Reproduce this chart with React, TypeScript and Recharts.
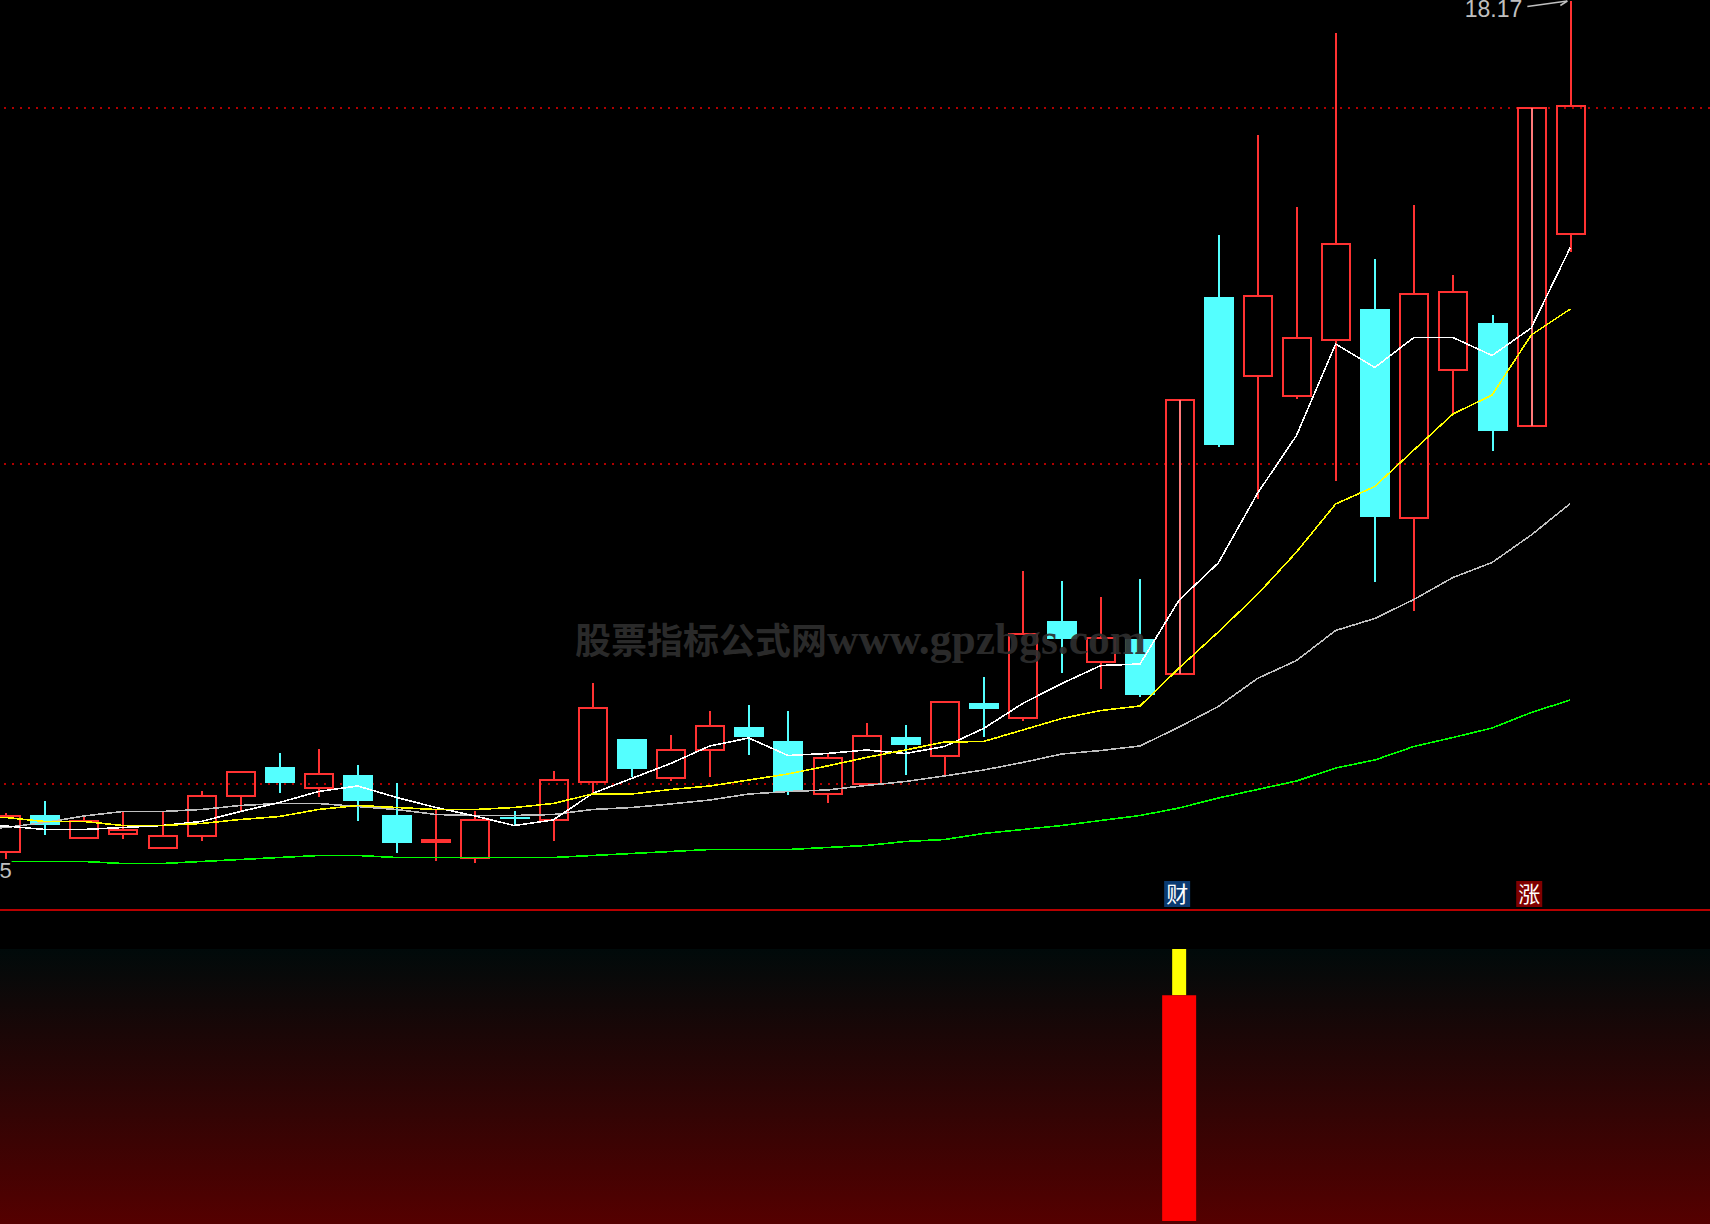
import { Bar, ComposedChart, Line, ReferenceDot, ReferenceLine, XAxis, YAxis } from "recharts";

// daily candles, left to right
const HIGHS = [1.94, 2.18, 1.86, 1.96, 1.96, 2.38, 2.76, 3.14, 3.22, 2.9, 2.54, 2.0, 1.98, 1.98, 2.78, 4.54, 3.42, 3.5, 3.98, 4.1, 3.98, 3.14, 3.74, 3.7, 4.16, 4.66, 6.78, 6.58, 6.26, 6.62, 10.2, 13.5, 15.5, 14.06, 17.54, 13.02, 14.1, 12.7, 11.9, 16.04, 18.17];
const LOWS = [1.02, 1.5, 1.44, 1.42, 1.24, 1.38, 1.96, 2.34, 2.26, 1.78, 1.14, 0.98, 0.94, 1.68, 1.38, 2.34, 2.66, 2.58, 2.66, 3.1, 2.3, 2.14, 2.52, 2.7, 2.7, 3.46, 3.78, 4.74, 4.42, 4.26, 4.72, 9.26, 8.22, 10.22, 8.58, 6.56, 5.98, 9.94, 9.18, 9.68, 13.16];
const OPENS = [1.16, 1.9, 1.44, 1.52, 1.24, 1.48, 2.28, 2.86, 2.44, 2.7, 1.9, 1.36, 1.04, 1.86, 1.8, 2.56, 3.42, 2.64, 3.2, 3.66, 3.38, 2.32, 2.52, 3.46, 3.08, 4.14, 3.84, 5.78, 4.96, 5.42, 4.72, 12.26, 10.68, 10.28, 11.4, 12.02, 7.84, 10.8, 11.74, 9.68, 13.52];
const CLOSES = [1.88, 1.7, 1.78, 1.6, 1.48, 2.28, 2.76, 2.54, 2.72, 2.18, 1.34, 1.4, 1.8, 1.82, 2.6, 4.04, 2.82, 3.2, 3.68, 3.46, 2.36, 3.04, 3.48, 3.3, 4.16, 4.02, 5.52, 5.42, 5.44, 4.3, 10.2, 9.3, 12.28, 11.44, 13.32, 7.86, 12.32, 12.36, 9.58, 16.04, 16.08];
const MARKED = [30, 39];

const MA5 = [1.68, 1.61, 1.61, 1.65, 1.69, 1.77, 1.97, 2.15, 2.37, 2.48, 2.25, 2.05, 1.88, 1.69, 1.8, 2.33, 2.63, 2.93, 3.28, 3.44, 3.09, 3.13, 3.2, 3.13, 3.27, 3.63, 4.13, 4.53, 4.89, 4.92, 6.2, 6.94, 8.33, 9.49, 11.32, 10.85, 11.45, 11.45, 11.09, 11.64, 13.25];
const MA10 = [1.85, 1.77, 1.77, 1.69, 1.69, 1.73, 1.81, 1.87, 2.01, 2.09, 2.05, 2.01, 2.01, 2.05, 2.13, 2.32, 2.32, 2.41, 2.48, 2.6, 2.72, 2.88, 3.05, 3.2, 3.36, 3.37, 3.6, 3.83, 3.99, 4.08, 4.84, 5.56, 6.31, 7.16, 8.12, 8.47, 9.2, 9.92, 10.3, 11.5, 12.02];
const MA20 = [1.65, 1.75, 1.88, 1.97, 1.97, 2.01, 2.09, 2.13, 2.13, 2.07, 2.01, 1.91, 1.89, 1.89, 1.91, 2.01, 2.05, 2.12, 2.2, 2.32, 2.37, 2.4, 2.49, 2.57, 2.68, 2.8, 2.95, 3.12, 3.19, 3.28, 3.66, 4.07, 4.63, 4.99, 5.59, 5.83, 6.21, 6.65, 6.95, 7.5, 8.13];
const MA60 = [0.97, 0.97, 0.97, 0.93, 0.93, 0.97, 1.01, 1.05, 1.09, 1.09, 1.05, 1.05, 1.05, 1.05, 1.05, 1.09, 1.13, 1.17, 1.21, 1.21, 1.21, 1.25, 1.29, 1.37, 1.41, 1.53, 1.61, 1.69, 1.79, 1.89, 2.04, 2.24, 2.41, 2.58, 2.84, 3.0, 3.27, 3.45, 3.64, 3.95, 4.2];

// averages of the day just off the left edge
const LEAD = { idx: -1, ma5: 1.66, ma10: 1.87, ma20: 1.6, ma60: 0.97 };

const GRID_LEVELS = [16.04, 8.92, 2.52];

// signal panel
const SIGNAL_DAYS = [30];
const SIGNAL_RED = [83];
const SIGNAL_YELLOW = [[83, 100]];

const RED = "#ff3232";
const CYAN = "#54ffff";
const WIDTH = 1710;
const X_DOMAIN = [-0.143, 43.57];
const Y_DOMAIN = [0, 18.2];

const rows: any[] = [
  LEAD,
  ...HIGHS.map((h, i) => ({
    idx: i,
    range: [LOWS[i], h],
    open: OPENS[i],
    close: CLOSES[i],
    marked: MARKED.includes(i),
    ma5: MA5[i],
    ma10: MA10[i],
    ma20: MA20[i],
    ma60: MA60[i],
  })),
];

const signalRows = SIGNAL_DAYS.map((d, i) => ({
  idx: d,
  red: SIGNAL_RED[i],
  yellow: SIGNAL_YELLOW[i],
}));

function Candle(props: any) {
  const { x, y, width, height, payload } = props;
  if (!payload || !payload.range) return null;
  const [low, high] = payload.range;
  const perUnit = height / (high - low);
  const toY = (v: number) => y + (high - v) * perUnit;
  const up = payload.close >= payload.open;
  const color = up ? RED : CYAN;
  const cx = x + width / 2;
  const top = toY(Math.max(payload.open, payload.close));
  const bottom = toY(Math.min(payload.open, payload.close));

  return (
    <g shapeRendering="crispEdges">
      <line x1={cx} x2={cx} y1={y} y2={top} stroke={color} strokeWidth={2} />
      <line x1={cx} x2={cx} y1={bottom} y2={y + height} stroke={color} strokeWidth={2} />
      {up ? (
        <rect x={x + 1} y={top} width={width - 2} height={Math.max(bottom - top, 1)} fill="none" stroke={RED} strokeWidth={2} />
      ) : (
        <rect x={x} y={top} width={width} height={bottom - top} fill={CYAN} />
      )}
      {payload.marked && <line x1={cx} x2={cx} y1={top} y2={bottom} stroke="#ff7a7a" strokeWidth={2} />}
    </g>
  );
}

function SignalTag(props: any) {
  const { cx, cy, text, fill } = props;
  return (
    <g>
      <rect x={cx - 15} y={cy - 13} width={26} height={26} fill={fill} />
      <text x={cx - 2} y={cy + 8} textAnchor="middle" fontSize={22} fill="#fff" fontFamily="'Noto Sans CJK SC'">
        {text}
      </text>
    </g>
  );
}

function HighLabel(props: any) {
  const { cx, cy } = props;
  return (
    <g>
      <text x={cx - 48} y={cy + 15.5} textAnchor="end" fontSize={23} fill="#c0c0c0" fontFamily="'Liberation Sans'">
        18.17
      </text>
      <polyline points={`${cx - 43},${cy + 5} ${cx - 3},${cy - 0.5}`} fill="none" stroke="#c0c0c0" strokeWidth={1.5} />
      <polyline points={`${cx - 10},${cy + 4} ${cx - 3},${cy - 0.5}`} fill="none" stroke="#c0c0c0" strokeWidth={1.5} />
    </g>
  );
}

function LowLabel(props: any) {
  const { cx, cy } = props;
  return (
    <g>
      <rect x={cx - 6} y={cy - 9} width={12} height={18} fill="#000" />
      <text x={cx} y={cy + 8} textAnchor="middle" fontSize={22} fill="#c0c0c0" fontFamily="'Liberation Sans'">
        5
      </text>
    </g>
  );
}

const lineProps = {
  strokeWidth: 1.6,
  dot: false,
  activeDot: false,
  shapeRendering: "crispEdges",
  isAnimationActive: false,
} as any;

export default function App() {
  return (
    <div style={{ position: "absolute", left: 0, top: 0, width: WIDTH, height: 1224, background: "#000", overflow: "hidden" }}>
      <div
        style={{
          position: "absolute",
          left: 0,
          top: 949,
          width: WIDTH,
          height: 275,
          background: "linear-gradient(#000a0a, #550000)",
        }}
      />

      {/* dotted levels sit in their own chart so the cyan bodies cover them */}
      <div style={{ position: "absolute", left: 0, top: 0 }}>
        <ComposedChart width={WIDTH} height={912} data={rows} margin={{ top: 0, right: 0, bottom: 2, left: 0 }}>
          <XAxis hide type="number" dataKey="idx" domain={X_DOMAIN} allowDataOverflow />
          <YAxis hide type="number" domain={Y_DOMAIN} allowDataOverflow />
          {GRID_LEVELS.map((v) => (
            <ReferenceLine key={v} y={v} stroke="#b00000" strokeWidth={2} strokeDasharray="2 6" strokeDashoffset={-4} shapeRendering="crispEdges" />
          ))}
          <ReferenceLine y={0} stroke="#b80000" strokeWidth={2} ifOverflow="visible" shapeRendering="crispEdges" />
        </ComposedChart>
      </div>

      <div style={{ position: "absolute", left: 0, top: 0 }}>
        <ComposedChart width={WIDTH} height={912} data={rows} margin={{ top: 0, right: 0, bottom: 2, left: 0 }}>
          <XAxis hide type="number" dataKey="idx" domain={X_DOMAIN} allowDataOverflow />
          <YAxis hide type="number" domain={Y_DOMAIN} allowDataOverflow />
          <Bar dataKey="range" barSize={30} shape={Candle} isAnimationActive={false} />
          <Line dataKey="ma20" stroke="#c0c0c0" {...lineProps} />
          <Line dataKey="ma60" stroke="#00ff00" {...lineProps} />
          <Line dataKey="ma5" stroke="#ffffff" {...lineProps} />
          <Line dataKey="ma10" stroke="#ffff00" {...lineProps} />
          <ReferenceDot x={40} y={18.17} shape={HighLabel} />
          <ReferenceDot x={0} y={0.8} shape={LowLabel} />
          <ReferenceDot x={30} y={0.32} shape={(p: any) => <SignalTag {...p} text="财" fill="#0a3a70" />} />
          <ReferenceDot x={39} y={0.32} shape={(p: any) => <SignalTag {...p} text="涨" fill="#800000" />} />
        </ComposedChart>
      </div>

      <div style={{ position: "absolute", left: 0, top: 949 }}>
        <ComposedChart width={WIDTH} height={275} data={signalRows} margin={{ top: 0, right: 0, bottom: 3, left: 0 }}>
          <XAxis hide xAxisId="wide" type="number" dataKey="idx" domain={X_DOMAIN} allowDataOverflow />
          <XAxis hide xAxisId="narrow" type="number" dataKey="idx" domain={X_DOMAIN} allowDataOverflow />
          <YAxis hide type="number" domain={[0, 100]} allowDataOverflow />
          <Bar xAxisId="narrow" dataKey="yellow" barSize={14} fill="#ffff00" isAnimationActive={false} />
          <Bar xAxisId="wide" dataKey="red" barSize={34} fill="#ff0000" isAnimationActive={false} />
        </ComposedChart>
      </div>

      <div
        style={{
          position: "absolute",
          left: 575,
          top: 616,
          whiteSpace: "nowrap",
          color: "#2e2e2e",
          opacity: 0.92,
          fontWeight: 700,
          lineHeight: "46px",
          fontFamily: "'Liberation Serif', 'Noto Sans CJK SC'",
          pointerEvents: "none",
        }}
      >
        <span style={{ fontSize: 36 }}>股票指标公式网</span>
        <span style={{ fontSize: 43.5 }}>www.gpzbgs.com</span>
      </div>
    </div>
  );
}
